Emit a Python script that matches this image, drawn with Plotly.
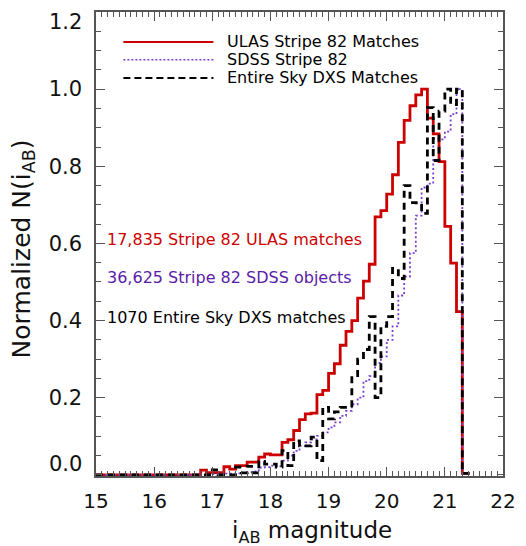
import numpy as np
import plotly.graph_objects as go

# ---- data ----
bin_left = [round(16.0 + 0.1 * i, 1) for i in range(54)]   # 16.0 ... 21.3, bin width 0.1
bin_width = 0.1
hist_start = 15.0

ulas = [0, 0, 0, 0, 0, 0, 0, 0,
        0.012, 0.006, 0.006, 0.006, 0.021, 0.015, 0.024, 0.024, 0.033, 0.033,
        0.046, 0.054, 0.052, 0.052, 0.084, 0.091, 0.115, 0.143, 0.158, 0.160,
        0.208, 0.219, 0.263, 0.288, 0.336, 0.372, 0.400, 0.458, 0.502, 0.546,
        0.669, 0.685, 0.728, 0.778, 0.862, 0.919, 0.957, 0.985, 1.000, 0.925,
        0.884, 0.812, 0.644, 0.549, 0.423, 0.004]

sdss = [0, 0, 0, 0, 0, 0, 0, 0, 0, 0,
        0.002, 0.002, 0.003, 0.003, 0.004, 0.005, 0.007, 0.009, 0.019, 0.020,
        0.024, 0.022, 0.037, 0.050, 0.062, 0.075, 0.084, 0.092, 0.101, 0.110,
        0.123, 0.136, 0.153, 0.166, 0.183, 0.200, 0.243, 0.256, 0.290, 0.307,
        0.350, 0.385, 0.465, 0.514, 0.575, 0.672, 0.745, 0.755, 0.872, 0.870,
        0.890, 0.935, 1.000, 0.004]

dxs = [0, 0, 0, 0, 0, 0, 0, 0, 0, 0,
       0.013, 0.0, 0.0, 0.0, 0.020, 0.005, 0.022, 0.005, 0.035, 0.028,
       0.028, 0.020, 0.063, 0.024, 0.088, 0.075, 0.075, 0.098, 0.037, 0.175,
       0.145, 0.163, 0.175, 0.175, 0.252, 0.300, 0.325, 0.410, 0.200, 0.385,
       0.410, 0.535, 0.509, 0.750, 0.706, 0.705, 0.678, 0.952, 0.815, 0.943,
       1.000, 0.960, 1.000, 0.004]

series_names = ["ULAS Stripe 82 Matches", "SDSS Stripe 82", "Entire Sky DXS Matches"]
count_labels = ["17,835 Stripe 82 ULAS matches", "36,625 Stripe 82 SDSS objects",
                "1070 Entire Sky DXS matches"]
x_ticks = [15, 16, 17, 18, 19, 20, 21, 22]
y_ticks = [0.2, 0.4, 0.6, 0.8, 1.0]
y_end_labels = [(0.0, "0.0"), (1.2, "1.2")]

RED = "#cc0000"
PURPLE_LINE = "#7b3fd0"
PURPLE_TEXT = "#5a1ca8"
BLACK = "#000000"
FONT = "DejaVu Sans"
TXT = "#111111"


def step_xy(vals):
    last_edge = round(bin_left[-1] + bin_width, 1)
    xs = [hist_start] + list(bin_left) + [last_edge, last_edge]
    ys = [0] + list(vals) + [vals[-1], 0]
    return xs, ys


fig = go.Figure()
styles = [
    (ulas, RED, "solid", 2.8),
    (sdss, PURPLE_LINE, "2px,2.5px", 1.8),
    (dxs, BLACK, "7px,5px", 2.8),
]
for (vals, col, dash, w), name in zip(styles, series_names):
    xs, ys = step_xy(vals)
    fig.add_trace(go.Scatter(x=xs, y=ys, mode="lines", line_shape="hv",
                             line=dict(color=col, width=w, dash=dash),
                             name=name, showlegend=False, hoverinfo="skip"))

# manual legend (top-left, inside plot)
leg_rows = [0.9356, 0.897, 0.858]
leg_styles = [(RED, None, 2), (PURPLE_LINE, "dot", 1.5), (BLACK, "dash", 2)]
shapes = []
annotations = []
for yr, (col, dash, w), name in zip(leg_rows, leg_styles, series_names):
    ln = dict(color=col, width=w)
    if dash == "dot":
        ln["dash"] = "2px,2px"
    elif dash == "dash":
        ln["dash"] = "7px,4px"
    shapes.append(dict(type="line", xref="paper", yref="paper",
                       x0=0.0673, x1=0.2885, y0=yr, y1=yr, line=ln))
    annotations.append(dict(xref="paper", yref="paper", x=0.316, y=yr,
                            xanchor="left", yanchor="middle", showarrow=False,
                            text=name, font=dict(family=FONT, size=16, color="#000000")))

# count labels
for yp, txt, col in zip([0.5107, 0.427, 0.341], count_labels, [RED, PURPLE_TEXT, BLACK]):
    annotations.append(dict(xref="paper", yref="paper", x=0.021, y=yp,
                            xanchor="left", yanchor="middle", showarrow=False,
                            text=txt, font=dict(family=FONT, size=16, color=col)))

# axis titles
annotations.append(dict(xref="paper", yref="paper", x=-0.18, y=0.49,
                        xanchor="center", yanchor="middle", showarrow=False,
                        textangle=-90, text="Normalized N(i<sub>AB</sub>)",
                        font=dict(family=FONT, size=25, color=TXT)))
annotations.append(dict(xref="paper", yref="paper", x=0.53, y=-0.121,
                        xanchor="center", yanchor="middle", showarrow=False,
                        text="i<sub>AB</sub> magnitude",
                        font=dict(family=FONT, size=23, color=TXT)))

# end labels on y axis (shifted inward like the original)
for val, lab, shift in [(y_end_labels[0][0], y_end_labels[0][1], 11),
                        (y_end_labels[1][0], y_end_labels[1][1], -10)]:
    annotations.append(dict(xref="paper", yref="y", x=-0.03, y=val, yshift=shift,
                            xanchor="right", yanchor="middle", showarrow=False,
                            text=lab, font=dict(family=FONT, size=21, color=TXT)))

axis_common = dict(
    showgrid=False, zeroline=False, showline=True, linecolor="#555555", linewidth=1.5,
    mirror="ticks", ticks="inside", tickcolor="#555555", tickwidth=1.2, ticklen=9,
)

fig.update_layout(
    width=526, height=546,
    margin=dict(l=96, r=14, t=10, b=70),
    paper_bgcolor="white", plot_bgcolor="white",
    showlegend=False,
    xaxis=dict(range=[15, 22], tickvals=x_ticks, ticktext=[str(v) for v in x_ticks],
               tickfont=dict(family=FONT, size=20, color=TXT),
               minor=dict(dtick=0.1, ticks="inside", ticklen=5, tickcolor="#555555", tickwidth=1),
               ticklabelstandoff=6, **axis_common),
    yaxis=dict(range=[-0.003, 1.2], tickvals=y_ticks,
               ticktext=["%.1f" % v for v in y_ticks],
               tickfont=dict(family=FONT, size=21, color=TXT),
               minor=dict(tick0=0, dtick=0.05, ticks="inside", ticklen=5, tickcolor="#555555", tickwidth=1),
               ticklabelstandoff=8, **axis_common),
    shapes=shapes,
    annotations=annotations,
)

fig.write_html("out.html")
